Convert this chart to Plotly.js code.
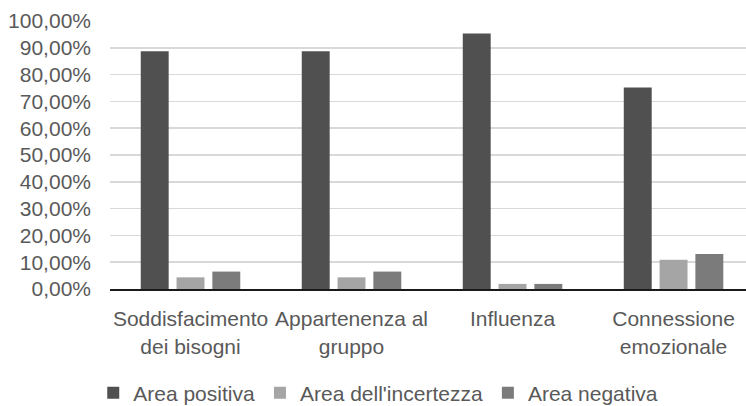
<!DOCTYPE html>
<html>
<head>
<meta charset="utf-8">
<script src="https://cdn.plot.ly/plotly-3.0.1.min.js"></script>
<style>html,body{margin:0;padding:0;background:#fff;}#chart{width:746px;height:406px;}</style>
</head>
<body>
<div id="chart"></div>
<script>
const categories = ["Soddisfacimento dei bisogni", "Appartenenza al gruppo", "Influenza", "Connessione emozionale"];
const tickLabels = ["Soddisfacimento<br>dei bisogni", "Appartenenza al<br>gruppo", "Influenza", "Connessione<br>emozionale"];
const seriesNames = ["Area positiva", "Area dell'incertezza", "Area negativa"];
const areaPositiva = [88.7, 88.7, 95.3, 75.2];
const areaIncertezza = [4.35, 4.35, 1.9, 10.9];
const areaNegativa = [6.5, 6.5, 1.9, 13.1];
const yTicks = [0, 10, 20, 30, 40, 50, 60, 70, 80, 90, 100];
const yTickLabels = ["0,00%", "10,00%", "20,00%", "30,00%", "40,00%", "50,00%", "60,00%", "70,00%", "80,00%", "90,00%", "100,00%"];

const colors = ["#505050", "#a5a5a5", "#7b7b7b"];
const values = [areaPositiva, areaIncertezza, areaNegativa];
const font = {family: "Liberation Sans, Arial, sans-serif", size: 21, color: "#595959"};

const data = values.map((v, i) => ({
  type: "bar",
  name: seriesNames[i],
  x: categories,
  y: v,
  marker: {color: colors[i]},
  hoverinfo: "none"
}));

const layout = {
  width: 746, height: 406,
  margin: {l: 110, r: 0, t: 21, b: 117, autoexpand: false},
  paper_bgcolor: "#fff", plot_bgcolor: "#fff",
  font: font,
  separators: ",.",
  bargap: 0.333, bargroupgap: 0.22,
  barmode: "group",
  showlegend: true,
  legend: {orientation: "h", xref: "container", x: 0.125, xanchor: "left", yref: "container", y: 0.032, yanchor: "middle", font: font, traceorder: "normal"},
  xaxis: {
    type: "category",
    range: [-0.5, 3.45],
    tickmode: "array", tickvals: categories, ticktext: tickLabels,
    showline: true, linecolor: "#1a1a1a", linewidth: 2,
    ticks: "", showgrid: false, zeroline: false,
    ticklabelstandoff: 10,
    tickfont: font, automargin: false
  },
  yaxis: {
    range: [0, 100],
    tickmode: "array", tickvals: yTicks, ticktext: yTickLabels,
    showgrid: true, gridcolor: "#d9d9d9", gridwidth: 1.5,
    zeroline: false, showline: false, ticks: "",
    ticklabelstandoff: 18,
    tickfont: font, automargin: false
  }
};

Plotly.newPlot("chart", data, layout, {displayModeBar: false, staticPlot: true});
</script>
</body>
</html>
